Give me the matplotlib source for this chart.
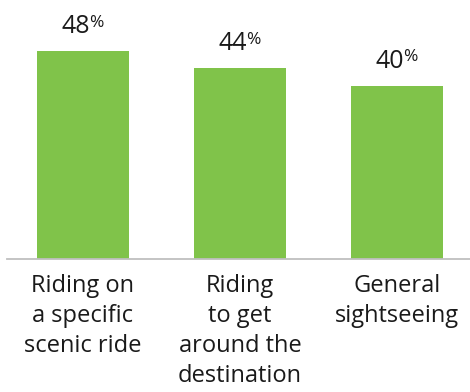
import matplotlib.pyplot as plt

# data
categories = ['Riding on\na specific\nscenic ride',
              'Riding\nto get\naround the\ndestination',
              'General\nsightseeing']
values = [48, 44, 40]
value_labels = ['48', '44', '40']

plt.rcParams['font.family'] = ['Open Sans', 'DejaVu Sans']

fig = plt.figure(figsize=(4.7, 3.92), dpi=100)
ax = fig.add_axes([7 / 470, 1 - 259 / 392, 463 / 470, 259 / 392])

x = list(range(len(values)))
ax.bar(x, values, width=0.586, color='#80c34a', zorder=2)

ax.set_xlim(-0.484, 2.465)
ax.set_ylim(0, 59.8)

for s in ['top', 'right', 'left']:
    ax.spines[s].set_visible(False)
ax.spines['bottom'].set_color('#bfbfbf')
ax.spines['bottom'].set_linewidth(1.3)
ax.set_yticks([])
ax.set_xticks(x)
ax.set_xticklabels(categories, fontsize=17, color='#1a1a1a', linespacing=1.32)
ax.tick_params(axis='x', length=0, pad=11)

# value labels: big number plus small raised percent sign
for xi, v, lab in zip(x, values, value_labels):
    ax.annotate(lab, (xi, v), xytext=(5, 13), textcoords='offset points',
                ha='right', va='baseline', fontsize=18, color='#1a1a1a')
    ax.annotate('%', (xi, v), xytext=(4.5, 17.5), textcoords='offset points',
                ha='left', va='baseline', fontsize=12.5, color='#1a1a1a')

fig.savefig('out.png', dpi=100)
